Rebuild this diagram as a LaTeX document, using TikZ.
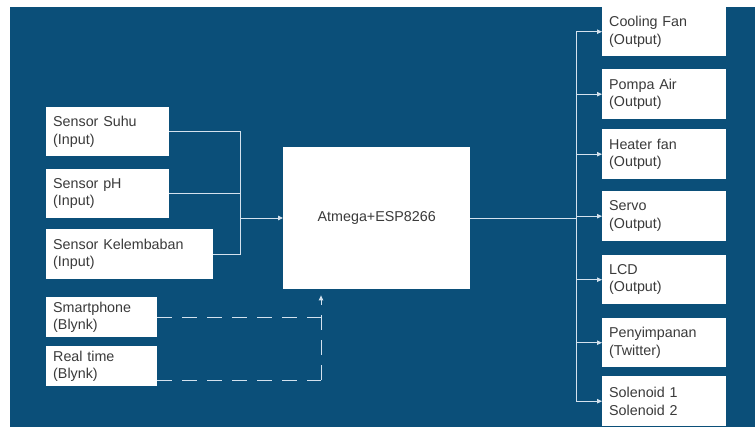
\documentclass[tikz,border=0pt]{standalone}
\usepackage{fontspec}
\setmainfont{Liberation Sans}
\usetikzlibrary{arrows.meta,calc}
\definecolor{bgblue}{HTML}{0B4F79}
\definecolor{linec}{HTML}{D4E2EE}
\definecolor{txt}{HTML}{3A3A3A}
\tikzset{
  box/.style={fill=white, draw=none, anchor=north west, align=left, inner xsep=7pt, inner ysep=0pt,
    text=txt, font=\fontsize{14.3}{17.5}\selectfont},
  conn/.style={draw=linec, line width=0.9pt},
  arr/.style={conn, -{Triangle[length=5pt,width=4.5pt]}},
  dashc/.style={conn, dash pattern=on 15pt off 10pt}
}
\begin{document}
\begin{tikzpicture}[x=1pt,y=-1pt]
\useasboundingbox (0,0) rectangle (755,427);
\fill[white] (0,0) rectangle (755,427);
\fill[bgblue] (10,7) rectangle (755,427);
% inputs
\node[box, text width=109pt, minimum height=49pt] (s1) at (46,107) {Sensor Suhu\\(Input)};
\node[box, text width=109pt, minimum height=49pt] (s2) at (46,169) {Sensor pH\\(Input)};
\node[box, text width=153pt, minimum height=50pt] (s3) at (46,229) {Sensor Kelembaban\\(Input)};
\node[box, text width=97pt, minimum height=40pt] (p1) at (46,297) {Smartphone\\(Blynk)};
\node[box, text width=97pt, minimum height=40pt] (p2) at (46,346) {Real time\\(Blynk)};
% controller
\node[fill=white, anchor=north west, minimum width=187pt, minimum height=142pt, inner sep=0pt,
  text=txt, font=\fontsize{14.3}{17.5}\selectfont] (mcu) at (283,147) {Atmega+ESP8266};
% outputs
\node[box, text width=110pt, minimum height=49pt] (o1) at (602,7) {Cooling Fan\\(Output)};
\node[box, text width=110pt, minimum height=50pt] (o2) at (602,69) {Pompa Air\\(Output)};
\node[box, text width=110pt, minimum height=50pt] (o3) at (602,129) {Heater fan\\(Output)};
\node[box, text width=110pt, minimum height=50pt] (o4) at (602,191) {Servo\\(Output)};
\node[box, text width=110pt, minimum height=49pt] (o5) at (602,255) {LCD\\(Output)};
\node[box, text width=110pt, minimum height=49pt] (o6) at (602,318) {Penyimpanan\\(Twitter)};
\node[box, text width=110pt, minimum height=50pt] (o7) at (602,376) {Solenoid 1\\Solenoid 2};
% junctions
\coordinate (jin) at (240,218);
\coordinate (jout) at (576,218);
\coordinate (jd) at (321,380);
% input connectors
\draw[conn] (s1.east) -| (jin);
\draw[conn] (s2.east) -| (jin);
\draw[conn] (s3.east) -| (jin);
\draw[arr] (jin) -- (mcu.west |- jin);
% dashed
\draw[dashc] (p1.east) -- (p1.east -| jd);
\draw[dashc] (p2.east |- jd) -- (jd);
\draw[dashc, -{Triangle[length=5pt,width=4.5pt]}, shorten >=6pt] (jd) -- (mcu.south -| jd);
% output connectors
\draw[conn] (mcu.east |- jout) -- (jout);
\foreach \o in {o1,o2,o3,o4,o5,o6,o7}{
  \draw[arr] (jout) |- (\o.west);
}
\end{tikzpicture}
\end{document}
